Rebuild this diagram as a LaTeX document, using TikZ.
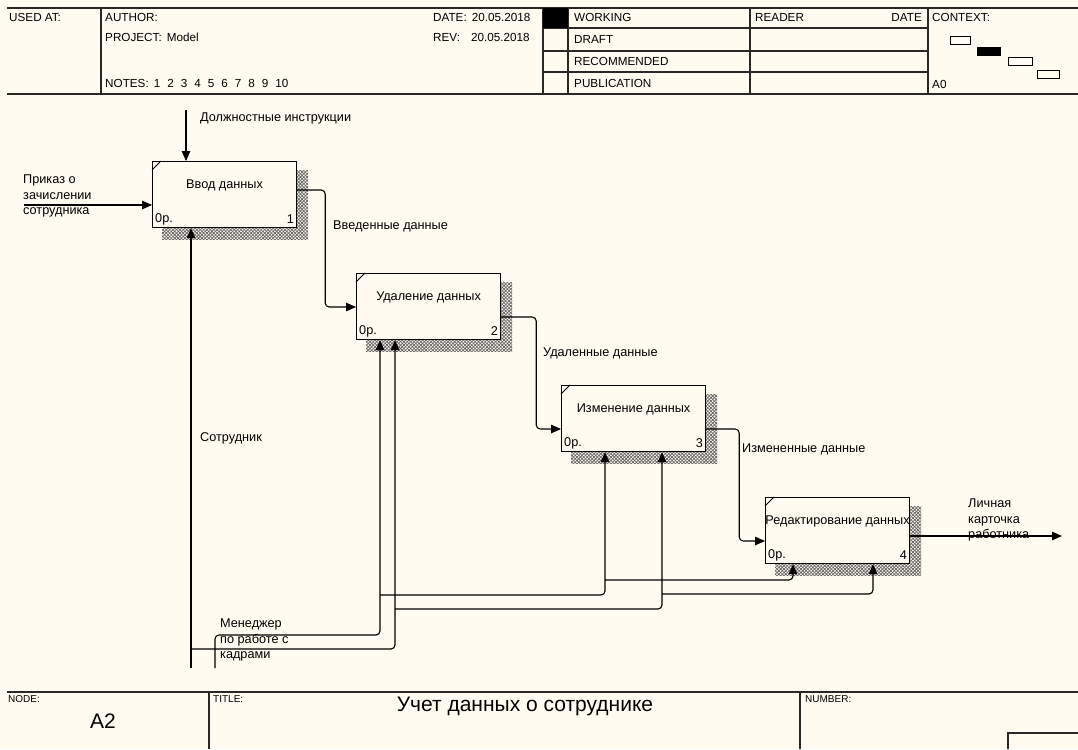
\documentclass[tikz,border=0pt]{standalone}
\usepackage{fontspec}
\setmainfont{Liberation Sans}
\usetikzlibrary{arrows.meta,patterns.meta,calc}
\definecolor{bg}{RGB}{255,251,240}
\definecolor{frm}{RGB}{40,40,40}
\pgfdeclarelayer{back}
\pgfsetlayers{back,main}
\begin{document}
\begin{tikzpicture}[x=1pt,y=-1pt,
  lbl/.style={font=\fontsize{12.7}{15.5}\selectfont, inner sep=0pt, anchor=west, align=left},
  hdr/.style={font=\fontsize{11.7}{13}\selectfont, inner sep=0pt, anchor=west},
  ftr/.style={font=\fontsize{10}{12}\selectfont, inner sep=0pt, anchor=west},
  frame/.style={draw=frm, line width=1.5pt},
  thinl/.style={draw=frm, line width=1.1pt},
  box/.style={draw=black, line width=1.2pt, fill=bg, minimum width=144pt, minimum height=66pt, anchor=north west, inner sep=0pt},
  arr/.style={draw=black, line width=1.1pt, rounded corners=4pt, -{Triangle[length=10pt,width=8.5pt]}},
  shadeA/.style={pattern={Lines[angle=45,distance=2.4pt,line width=0.75pt]}, pattern color=black!60},
  shadeB/.style={pattern={Lines[angle=-45,distance=2.4pt,line width=0.75pt]}, pattern color=black!60},
]
\useasboundingbox (0,0) rectangle (1078,749);
\begin{pgfonlayer}{back}
\fill[bg] (0,0) rectangle (1078,749);
\end{pgfonlayer}

% ---------- header ----------
\draw[frame] (7,8) -- (1078,8);
\draw[frame] (7,94) -- (1078,94);
\draw[thinl] (101,8) -- (101,94);
\draw[thinl] (543,8) -- (543,94);
\draw[thinl] (568,8) -- (568,94);
\draw[thinl] (750,8) -- (750,94);
\draw[thinl] (928,8) -- (928,94);
\foreach \yy in {28,51,72} \draw[thinl] (543,\yy) -- (928,\yy);
\fill[black] (543,8) rectangle (568,28);

\node[hdr] (usedat) at (9,17) {USED AT:};
\node[hdr] (author) at (105,17) {AUTHOR:};
\node[hdr] (project) at (105,37) {PROJECT:\hspace{5pt}Model};
\node[hdr] (notes) at (105,83) {NOTES:\hspace{5pt}1\hspace{7pt}2\hspace{7pt}3\hspace{7pt}4\hspace{7pt}5\hspace{7pt}6\hspace{7pt}7\hspace{7pt}8\hspace{7pt}9\hspace{7pt}10};
\node[hdr] (date) at (433,17) {DATE:\hspace{5pt}20.05.2018};
\node[hdr] (rev) at (433,37) {REV:\hspace{11pt}20.05.2018};
\node[hdr] (working) at (574,17) {WORKING};
\node[hdr] (draft) at (574,39) {DRAFT};
\node[hdr] (recom) at (574,61) {RECOMMENDED};
\node[hdr] (publ) at (574,83) {PUBLICATION};
\node[hdr] (reader) at (755,17) {READER};
\node[hdr, anchor=east] (rdate) at (922,17) {DATE};
\node[hdr] (context) at (932,17) {CONTEXT:};
\node[hdr] (a0) at (932,84) {A0};
\draw[draw=black, line width=0.9pt] (950,36) rectangle (970,44);
\fill[black] (977,47) rectangle (1001,56);
\draw[draw=black, line width=0.9pt] (1008,57) rectangle (1032,65);
\draw[draw=black, line width=0.9pt] (1037,70) rectangle (1059,78);

% ---------- footer ----------
\draw[frame] (7,692) -- (1078,692);
\draw[thinl] (209,692) -- (209,749);
\draw[thinl] (800,692) -- (800,749);
\draw[thinl] (1078,733) -- (1008,733) -- (1008,749);
\node[ftr] (nodelbl) at (8,699) {NODE:};
\node[ftr] (titlelbl) at (213,699) {TITLE:};
\node[ftr] (numlbl) at (805,699) {NUMBER:};
\node[font=\fontsize{21}{24}\selectfont, inner sep=0pt] (a2) at (103,721) {A2};
\node[font=\fontsize{21}{24}\selectfont, inner sep=0pt] (title) at (525,706) {Учет данных о сотруднике};

% ---------- boxes ----------
\node[box] (b1) at (152,161) {};
\node[box] (b2) at (356,273) {};
\node[box] (b3) at (561,385) {};
\node[box] (b4) at (765,497) {};

\begin{pgfonlayer}{back}
\foreach \b in {b1,b2,b3,b4}{
  \fill[shadeA] ($(\b.north west)+(10,9)$) rectangle ($(\b.south east)+(11,11)$);
  \fill[shadeB] ($(\b.north west)+(10,9)$) rectangle ($(\b.south east)+(11,11)$);
}
\end{pgfonlayer}

\foreach \b/\n/\t in {b1/1/Ввод данных, b2/2/Удаление данных, b3/3/Изменение данных, b4/4/Редактирование данных}{
  \draw[line width=0.8pt] ($(\b.north west)+(0,9)$) -- ($(\b.north west)+(9,0)$);
  \node[lbl, anchor=center] (\b t) at ($(\b.north)+(0,24.5)$) {\t};
  \node[lbl] (\b c) at ($(\b.south west)+(3,-9)$) {0р.};
  \node[lbl, anchor=east] (\b n) at ($(\b.south east)+(-3,-9)$) {\n};
}

% ---------- control and input of box 1 ----------
\coordinate (ctlS) at (186,110);
\draw[arr] (ctlS) -- (ctlS |- b1.north);
\node[lbl] (ctlL) at (200,118) {Должностные инструкции};

\coordinate (inS) at (24,205);
\draw[arr] (inS) -- (inS -| b1.west);
\node[lbl, anchor=north west] (inL) at (23,175) {Приказ о\\зачислении\\сотрудника};

% ---------- outputs ----------
\draw[arr] ($(b1.north east)+(0,29)$) -- ++(28,0) |- ($(b2.north west)+(0,34)$);
\node[lbl] (o1L) at (333,226) {Введенные данные};
\draw[arr] ($(b2.north east)+(0,44)$) -- ++(35,0) |- ($(b3.north west)+(0,44)$);
\node[lbl] (o2L) at (543,353) {Удаленные данные};
\draw[arr] ($(b3.north east)+(0,44)$) -- ++(33,0) |- ($(b4.north west)+(0,44)$);
\node[lbl] (o3L) at (742,449) {Измененные данные};
\coordinate (outE) at (1062,536);
\draw[arr] (outE -| b4.east) -- (outE);
\node[lbl, anchor=north west] (o4L) at (968,499) {Личная\\карточка\\работника};

% ---------- mechanisms ----------
\coordinate (m2a) at ($(b2.south west)+(24,0)$);
\coordinate (m2b) at ($(b2.south west)+(39,0)$);
\coordinate (m3a) at ($(b3.south west)+(44,0)$);
\coordinate (m3b) at ($(b3.south west)+(101,0)$);
\coordinate (m4a) at ($(b4.south west)+(28,0)$);
\coordinate (m4b) at ($(b4.south west)+(108,0)$);

\coordinate (sotr) at (191,668);
\draw[arr] (sotr) -- (sotr |- b1.south);
\node[lbl] (sotrL) at (200,438) {Сотрудник};
\coordinate (j1) at (191,649);
\draw[arr] (j1) -| (m2b);
\coordinate (j2) at (395,609);
\draw[arr] (j2) -| (m3b);
\coordinate (j3) at (662,594);
\draw[arr] (j3) -| (m4b);

\coordinate (manS) at (215,668);
\coordinate (k1) at (215,635);
\draw[arr] (manS) -- (k1) -| (m2a);
\coordinate (j5) at (380,595);
\draw[arr] (j5) -| (m3a);
\coordinate (j6) at (605,580);
\draw[arr] (j6) -| (m4a);
\node[lbl, anchor=north west] (manL) at (220,619) {Менеджер\\по работе с\\кадрами};
\end{tikzpicture}
\end{document}
